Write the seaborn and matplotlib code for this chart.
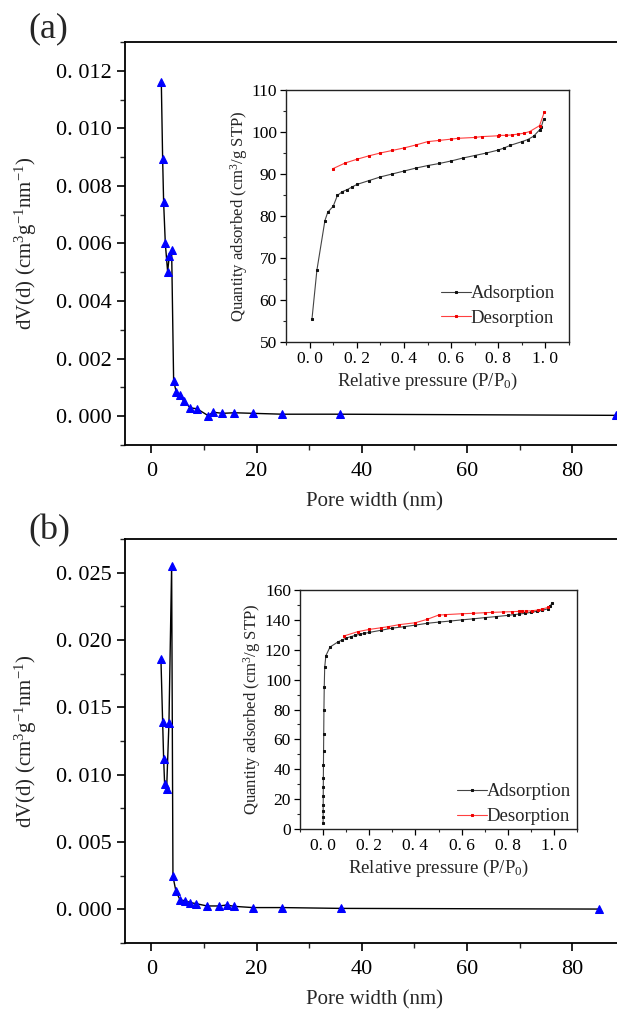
import matplotlib
matplotlib.use("Agg")
import matplotlib.pyplot as plt
import seaborn as sns
import numpy as np
import pandas as pd
from matplotlib.ticker import MultipleLocator, FuncFormatter

# ---------------- data ----------------
# Panel (a): pore size distribution
a_pore_width = [1.90, 2.15, 2.34, 2.66, 3.10, 3.42, 3.86, 4.24, 4.75, 5.38, 6.14, 7.41, 8.67,
                10.8, 11.7, 13.5, 15.8, 19.3, 24.9, 35.9, 88.3]
a_dvd = [0.01160, 0.00895, 0.00743, 0.00600, 0.00502, 0.00558, 0.00576, 0.00123, 0.00083,
         0.00072, 0.00053, 0.00029, 0.00026, 0.00002, 0.00014, 0.00010, 0.00012, 0.00010,
         0.00007, 0.00007, 0.00003]

# Panel (a) inset: isotherm
a_ads_p = [0.010, 0.031, 0.065, 0.077, 0.100, 0.118, 0.139, 0.160, 0.180, 0.200, 0.250, 0.300,
           0.350, 0.400, 0.450, 0.500, 0.550, 0.600, 0.650, 0.700, 0.750, 0.800, 0.825, 0.850,
           0.900, 0.925, 0.950, 0.975, 0.982, 0.992]
a_ads_q = [55.4, 67.1, 78.9, 80.9, 82.3, 84.9, 85.8, 86.3, 86.9, 87.5, 88.4, 89.3, 90.0, 90.7,
           91.4, 92.0, 92.5, 93.1, 93.8, 94.4, 95.0, 95.7, 96.2, 96.8, 97.7, 98.2, 99.0, 100.5,
           101.1, 103.0]
a_des_p = [0.995, 0.975, 0.933, 0.908, 0.883, 0.858, 0.833, 0.805, 0.800, 0.730, 0.700, 0.630,
           0.600, 0.550, 0.500, 0.450, 0.400, 0.350, 0.300, 0.250, 0.200, 0.150, 0.100]
a_des_q = [104.7, 101.5, 100.1, 99.7, 99.5, 99.3, 99.2, 99.2, 99.1, 98.9, 98.7, 98.5, 98.3,
           98.0, 97.7, 96.9, 96.2, 95.6, 95.0, 94.3, 93.5, 92.6, 91.3]

# Panel (b): pore size distribution
b_pore_width = [1.83, 2.15, 2.34, 2.53, 2.91, 3.35, 3.86, 4.11, 4.68, 5.50, 6.35, 7.40, 8.55,
                10.6, 12.9, 14.3, 15.8, 19.3, 24.9, 36.0, 85.1]
b_dvd = [0.01856, 0.01393, 0.01120, 0.00929, 0.00892, 0.01385, 0.02550, 0.00245, 0.00134,
         0.00067, 0.00065, 0.00050, 0.00042, 0.00025, 0.00025, 0.00032, 0.00022, 0.00013,
         0.00013, 0.00007, 0.00002]

# Panel (b) inset: isotherm
b_ads_p = [0.0001, 0.0002, 0.0003, 0.0005, 0.0007, 0.0009, 0.0012, 0.0016, 0.0021, 0.0028,
           0.0037, 0.0050, 0.0070, 0.012, 0.030, 0.066, 0.082, 0.100, 0.119, 0.139, 0.159,
           0.179, 0.200, 0.250, 0.300, 0.350, 0.400, 0.450, 0.500, 0.550, 0.600, 0.650, 0.700,
           0.750, 0.800, 0.825, 0.850, 0.875, 0.900, 0.925, 0.950, 0.975, 0.985, 0.992]
b_ads_q = [4.2, 8.3, 12.1, 16.1, 21.9, 28.2, 34.0, 42.9, 52.3, 63.9, 79.8, 95.0, 108.2, 116.0,
           121.8, 125.4, 126.5, 127.8, 128.7, 129.6, 130.3, 131.0, 131.6, 133.0, 134.5, 135.4,
           136.5, 137.7, 138.5, 139.2, 140.0, 140.7, 141.5, 142.2, 143.0, 143.5, 143.9, 144.4,
           145.0, 145.7, 146.4, 147.5, 149.5, 151.5]
b_des_p = [0.975, 0.950, 0.930, 0.905, 0.880, 0.860, 0.850, 0.820, 0.780, 0.730, 0.700, 0.650,
           0.600, 0.530, 0.500, 0.450, 0.400, 0.330, 0.280, 0.250, 0.200, 0.150, 0.090]
b_des_q = [148.4, 147.3, 146.6, 146.1, 145.9, 145.9, 145.7, 145.5, 145.3, 145.0, 144.8, 144.4,
           144.1, 143.5, 143.2, 140.3, 138.1, 136.8, 135.4, 134.7, 133.6, 132.1, 129.2]

# ---------------- style ----------------
sns.set_theme(style="ticks")
plt.rcParams["font.family"] = ["Liberation Serif", "DejaVu Serif"]
plt.rcParams["mathtext.fontset"] = "custom"
plt.rcParams["mathtext.rm"] = "Liberation Serif"
plt.rcParams["mathtext.it"] = "Liberation Serif:italic"
plt.rcParams["mathtext.default"] = "regular"

fig = plt.figure(figsize=(6.17, 10.13), dpi=100)
W, H = 617.0, 1013.0


def add_axes_px(left, top, right, bottom):
    return fig.add_axes([left / W, 1 - bottom / H, (right - left) / W, (bottom - top) / H])


def dot_fmt(decimals):
    def f(v, pos):
        s = f"{v:.{decimals}f}"
        return s.replace(".", ". ")
    return FuncFormatter(f)


def style_main(ax, ylim, major, minor):
    ax.set_xlim(-5, 90)
    ax.set_ylim(*ylim)
    ax.xaxis.set_major_locator(MultipleLocator(20))
    ax.xaxis.set_minor_locator(MultipleLocator(10))
    ax.yaxis.set_major_locator(MultipleLocator(major))
    ax.yaxis.set_minor_locator(MultipleLocator(minor))
    ax.yaxis.set_major_formatter(dot_fmt(3))
    for s in ax.spines.values():
        s.set_linewidth(1.3)
        s.set_color("black")
    ax.spines["right"].set_visible(False)
    ax.tick_params(axis="both", which="major", direction="out", length=6, width=1.2,
                   labelsize=16, colors="black", top=False, right=False)
    ax.tick_params(axis="x", which="major", pad=6)
    ax.tick_params(axis="both", which="minor", direction="out", length=3.5, width=1.0,
                   top=False, right=False)
    ax.set_xlabel("Pore width (nm)", fontsize=15, labelpad=8)
    ax.set_ylabel(r"dV(d) (cm$^3$g$^{-1}$nm$^{-1}$)", fontsize=15, labelpad=12)


def style_inset(ax, ylim, ymajor, yminor):
    ax.set_xlim(-0.1, 1.1)
    ax.set_ylim(*ylim)
    ax.xaxis.set_major_locator(MultipleLocator(0.2))
    ax.xaxis.set_minor_locator(MultipleLocator(0.1))
    ax.yaxis.set_major_locator(MultipleLocator(ymajor))
    ax.yaxis.set_minor_locator(MultipleLocator(yminor))
    ax.xaxis.set_major_formatter(dot_fmt(1))
    for s in ax.spines.values():
        s.set_linewidth(1.0)
        s.set_color("#222222")
    ax.tick_params(axis="both", which="major", direction="out", length=4, width=0.9,
                   labelsize=12.5, colors="black", top=False, right=False, pad=2.5)
    ax.tick_params(axis="both", which="minor", direction="out", length=2.5, width=0.8,
                   top=False, right=False)
    ax.set_xlabel(r"Relative pressure (P/P$_0$)", fontsize=13.5, labelpad=3)
    ax.set_ylabel(r"Quantity adsorbed (cm$^3$/g STP)", fontsize=12, labelpad=1)
    ax.set_facecolor("white")


def draw_main(ax, xs, ys):
    df = pd.DataFrame({"x": xs, "y": ys})
    sns.lineplot(data=df, x="x", y="y", ax=ax, sort=False, color="black", linewidth=1.0,
                 marker="^", markersize=6, markerfacecolor="#0000ff",
                 markeredgecolor="#0000ff", clip_on=False, zorder=3)


def draw_inset(ax, ap, aq, dp, dq, anchor):
    dfa = pd.DataFrame({"p": ap, "q": aq})
    dfd = pd.DataFrame({"p": dp, "q": dq})
    sns.lineplot(data=dfa, x="p", y="q", ax=ax, sort=False, color="#444444", linewidth=0.8,
                 marker="s", markersize=2.0, markerfacecolor="#111111",
                 markeredgecolor="#111111", label="Adsorption")
    sns.lineplot(data=dfd, x="p", y="q", ax=ax, sort=False, color="#ff4040", linewidth=0.8,
                 marker="s", markersize=2.0, markerfacecolor="#ee0000",
                 markeredgecolor="#ee0000", label="Desorption")
    ax.legend(loc="lower right", bbox_to_anchor=anchor, frameon=False, fontsize=13.5,
              handlelength=1.6, handletextpad=0.0, borderaxespad=0.0, labelspacing=0.4)


# ---------------- panel (a) ----------------
ax_a = add_axes_px(125, 42, 625, 445)
draw_main(ax_a, a_pore_width, a_dvd)
style_main(ax_a, (-0.001, 0.013), 0.002, 0.001)

ins_a = add_axes_px(286, 90, 569, 342)
draw_inset(ins_a, a_ads_p, a_ads_q, a_des_p, a_des_q, (0.977, 0.03))
style_inset(ins_a, (50, 110), 10, 5)

# ---------------- panel (b) ----------------
ax_b = add_axes_px(125, 539, 625, 943)
draw_main(ax_b, b_pore_width, b_dvd)
style_main(ax_b, (-0.0025, 0.0275), 0.005, 0.0025)

ins_b = add_axes_px(300, 590, 577, 829)
draw_inset(ins_b, b_ads_p, b_ads_q, b_des_p, b_des_q, (1.005, -0.015))
style_inset(ins_b, (0, 160), 20, 10)

fig.text(28 / W, 1 - 29 / H, "(a)", fontsize=26, va="center", ha="left")
fig.text(28 / W, 1 - 531 / H, "(b)", fontsize=26, va="center", ha="left")

fig.savefig("out.png", dpi=100, facecolor="white")
